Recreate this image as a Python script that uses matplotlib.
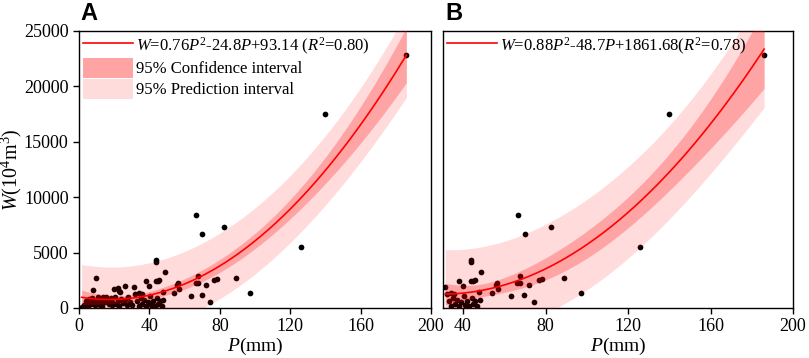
import numpy as np
import matplotlib
matplotlib.use("Agg")
import matplotlib.pyplot as plt
from matplotlib.lines import Line2D
from matplotlib.patches import Patch

plt.rcParams['font.family'] = ['Liberation Serif', 'DejaVu Serif']
plt.rcParams['mathtext.fontset'] = 'custom'
plt.rcParams['mathtext.rm'] = 'Liberation Serif'
plt.rcParams['mathtext.it'] = 'Liberation Serif:italic'
plt.rcParams['mathtext.bf'] = 'Liberation Serif:bold'

# ---- data (P in mm, W in 10^4 m^3) ----
P_A = [186, 140, 126, 97, 89, 82.6, 78.2, 76.7, 74.4, 72.2, 70, 69.7, 67.8, 66.5, 67.5, 66.2,
       63.4, 57, 56.3, 55.9, 54, 48.9, 47.9, 45.6, 44.9, 43.8, 44, 43.7, 40, 38, 35.6, 34.3,
       31.4, 26.3, 22.9, 22.3, 20, 23.2, 15.2, 13.8, 9.7, 8.1, 1.5,
       3, 4, 5, 5.5, 6, 7, 7.5, 8.5, 9, 10, 10.5, 11, 12, 12.5, 13, 14, 15, 16, 17, 18,
       18.5, 19, 20.5, 21, 22, 23, 24, 25, 26, 27, 28, 29, 30, 32, 33, 34, 35, 36, 37, 38,
       39, 40.5, 41, 42, 43, 44.5, 45, 46, 47, 48]
W_A = [22800, 17550, 5530, 1380, 2740, 7340, 2650, 2530, 540, 2080, 6650, 1170, 2890, 8390, 2280, 2280,
       1110, 1690, 2280, 2080, 1330, 3280, 1420, 2530, 2460, 2470, 4330, 4180, 1990, 2440, 1240, 1380,
       1920, 2030, 1560, 1780, 1700, 1440, 1020, 1020, 2680, 1660, 120,
       300, 650, 200, 800, 450, 350, 900, 600, 250, 750, 400, 950, 300, 600, 150, 800, 500, 700, 350, 900,
       250, 550, 1000, 400, 650, 200, 850, 450, 700, 300, 950, 550, 250, 1250, 600, 150, 900, 350, 700, 200,
       500, 1050, 300, 650, 150, 900, 400, 600, 200, 750]

P_MIN_B = 31.0

eq_A = r'$W$=0.76$P^{2}$-24.8$P$+93.14 ($R^{2}$=0.80)'
eq_B = r'$W$=0.88$P^{2}$-48.7$P$+1861.68($R^{2}$=0.78)'
T_CRIT = {'A': 1.985, 'B': 2.01}

P_A = np.array(P_A, float)
W_A = np.array(W_A, float)
mask = P_A >= P_MIN_B
P_B = P_A[mask]
W_B = W_A[mask]

RED = '#FF0000'
CONF_C = '#FFA3A3'
PRED_C = '#FFDCDC'


def fit_bands(P, W, t):
    X = np.column_stack([P**2, P, np.ones_like(P)])
    beta, *_ = np.linalg.lstsq(X, W, rcond=None)
    resid = W - X @ beta
    n, k = X.shape
    s2 = resid @ resid / (n - k)
    XtXi = np.linalg.inv(X.T @ X)
    pg = np.linspace(P.min(), P.max(), 300)
    Xg = np.column_stack([pg**2, pg, np.ones_like(pg)])
    yg = Xg @ beta
    h = np.einsum('ij,jk,ik->i', Xg, XtXi, Xg)
    conf = t * np.sqrt(s2 * h)
    pred = t * np.sqrt(s2 * (1 + h))
    return pg, yg, conf, pred


fig = plt.figure(figsize=(8.09, 3.58), dpi=100)
axA = fig.add_axes([79/809, 50/358, 352/809, 277/358])
axB = fig.add_axes([443/809, 50/358, 350/809, 277/358])

for ax, P, W, key, eq, xlim, xt in [
        (axA, P_A, W_A, 'A', eq_A, (0, 200), [0, 40, 80, 120, 160, 200]),
        (axB, P_B, W_B, 'B', eq_B, (30.3, 200), [40, 80, 120, 160, 200])]:
    pg, yg, conf, pred = fit_bands(P, W, T_CRIT[key])
    ax.scatter(P, W, s=17, color='black', zorder=2, linewidths=0)
    ax.fill_between(pg, yg - pred, yg + pred, color=RED, alpha=0.14, lw=0, zorder=3)
    ax.fill_between(pg, yg - conf, yg + conf, color=RED, alpha=0.25, lw=0, zorder=4)
    ax.plot(pg, yg, color=RED, lw=1.2, zorder=5)
    ax.set_xlim(*xlim)
    ax.set_ylim(0, 25000)
    ax.set_xticks(xt)
    ax.set_yticks([0, 5000, 10000, 15000, 20000, 25000])
    ax.tick_params(labelsize=13, direction='out', length=4, width=1)
    for sp in ax.spines.values():
        sp.set_linewidth(1.0)
    ax.set_xlabel(r'$P$(mm)', fontsize=14, labelpad=0)
    handles = [Line2D([], [], color=RED, lw=1.2)]
    labels = [eq]
    if key == 'A':
        handles += [Patch(facecolor=CONF_C, edgecolor='none'), Patch(facecolor=PRED_C, edgecolor='none')]
        labels += ['95% Confidence interval', '95% Prediction interval']
    ax.legend(handles, labels, loc='upper left', frameon=False, fontsize=12,
              handlelength=3.0, handleheight=1.5, handletextpad=0.15,
              labelspacing=0.05, borderpad=0.15, borderaxespad=0.1)

axA.set_ylabel(r'$W$(10$^{4}$m$^{3}$)', fontsize=14.5, va='center')
axA.yaxis.set_label_coords(-0.193, 0.5)
axB.tick_params(axis='y', left=False, labelleft=False)

fig.text(80/809, 1 - 20/358, 'A', fontsize=17, fontweight='bold', family='Liberation Sans')
fig.text(445/809, 1 - 20/358, 'B', fontsize=17, fontweight='bold', family='Liberation Sans')

fig.savefig('out.png', dpi=100)
